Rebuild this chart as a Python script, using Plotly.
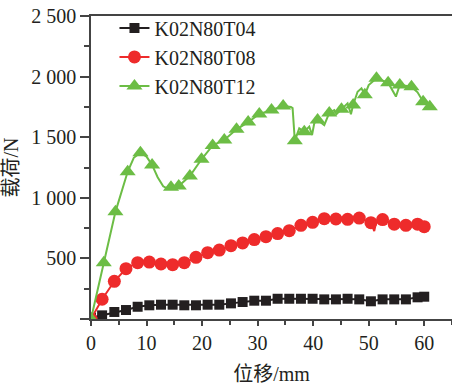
import plotly.graph_objects as go

# ---- data ----
disp_T04 = [0, 2.0, 4.2, 6.3, 8.4, 10.5, 12.6, 14.7, 16.8, 18.9, 21.0, 23.1, 25.2, 27.3, 29.4,
            31.5, 33.6, 35.7, 37.8, 39.9, 42.0, 44.1, 46.2, 48.3, 50.4, 52.5, 54.6, 56.7, 58.8, 60.0]
load_T04 = [10, 30, 58, 74, 101, 113, 118, 118, 113, 113, 118, 118, 129, 140, 151,
            151, 167, 167, 167, 167, 162, 162, 167, 162, 146, 162, 162, 162, 179, 184]

disp_T08 = disp_T04
load_T08 = [0, 163, 311, 415, 465, 470, 454, 448, 465, 509, 547, 569, 605, 628, 655,
            679, 705, 729, 773, 798, 828, 825, 822, 833, 795, 820, 782, 773, 782, 762]
# extra (unmarked) recorded points of T08 curve
disp_T08_extra = [51.0, 51.3]
load_T08_extra = [725, 790]

disp_T12 = [0, 2.3, 4.4, 6.6, 8.9, 11.0, 14.4, 15.8, 17.8, 19.9, 21.9, 24.0, 26.2, 28.3, 30.3,
            32.5, 34.6, 36.7, 38.4, 40.8, 42.9, 45.1, 47.2, 49.3, 51.4, 53.5, 55.6, 57.7, 59.8, 61.0]
load_T12 = [0, 464, 884, 1215, 1372, 1271, 1087, 1097, 1180, 1318, 1432, 1477, 1565, 1625, 1691,
            1724, 1757, 1471, 1545, 1642, 1700, 1730, 1766, 1850, 1986, 1950, 1931, 1917, 1793, 1752]
disp_T12_extra = [7.7, 10.0, 12.0, 13.0, 13.8, 36.0, 36.3, 37.5, 39.3, 39.8, 40.2, 42.0,
                  43.8, 44.2, 46.2, 46.8, 48.0, 48.7, 50.0, 54.9, 58.8]
load_T12_extra = [1330, 1340, 1170, 1095, 1075, 1750, 1740, 1573, 1587, 1518, 1615, 1600,
                  1724, 1690, 1780, 1690, 1875, 1903, 1930, 1835, 1870]

names = ["K02N80T04", "K02N80T08", "K02N80T12"]
y_ticks = [0, 500, 1000, 1500, 2000, 2500]
y_ticktext = ["", "500", "1 000", "1 500", "2 000", "2 500"]
x_ticks = [0, 10, 20, 30, 40, 50, 60]


def merged(x, y, xe, ye):
    pts = sorted(list(zip(x, y)) + list(zip(xe, ye)))
    return [p[0] for p in pts], [p[1] for p in pts]


series = [
    (names[0], disp_T04, load_T04, [], [], "#231f20", "square", 10),
    (names[1], disp_T08, load_T08, disp_T08_extra, load_T08_extra, "#ee2b2b", "circle", 13),
    (names[2], disp_T12, load_T12, disp_T12_extra, load_T12_extra, "#6cbd45", "triangle-up", 14),
]

fig = go.Figure()
for name, x, y, xe, ye, col, sym, sz in series:
    lx, ly = merged(x, y, xe, ye)
    fig.add_trace(go.Scatter(x=lx, y=ly, mode="lines", line=dict(color=col, width=2),
                             showlegend=False, legendgroup=name, hoverinfo="skip"))
    fig.add_trace(go.Scatter(x=x, y=y, mode="markers", showlegend=False, legendgroup=name,
                             marker=dict(symbol=sym, size=sz, color=col, line=dict(width=0))))
    fig.add_trace(go.Scatter(x=[None], y=[None], mode="lines+markers", name=name, legendgroup=name,
                             line=dict(color=col, width=2),
                             marker=dict(symbol=sym, size=sz, color=col, line=dict(width=0))))

axis_col = "#444444"
font_family = "Liberation Serif, Times New Roman, Noto Sans CJK SC, serif"

fig.update_layout(
    width=452, height=388,
    margin=dict(l=91, r=0, t=16, b=69),
    paper_bgcolor="white", plot_bgcolor="white",
    font=dict(family=font_family, size=20, color="#231f20"),
    showlegend=True,
    legend=dict(x=0.065, y=1.025, xanchor="left", yanchor="top", bgcolor="rgba(0,0,0,0)",
                font=dict(family=font_family, size=20, color="#231f20"),
                tracegroupgap=0, itemwidth=30),
    xaxis=dict(range=[0, 65], tickmode="array", tickvals=x_ticks, ticks="outside", ticklen=5,
               tickwidth=1.5, tickcolor=axis_col, showline=True, linecolor=axis_col, linewidth=1.5,
               mirror=True, showgrid=False, zeroline=False,
               minor=dict(tickmode="linear", tick0=5, dtick=10, ticks="outside", ticklen=4,
                          tickwidth=1.5, tickcolor=axis_col),
               title=dict(text="位移/mm", standoff=14, font=dict(family=font_family, size=20))),
    yaxis=dict(range=[0, 2500], tickmode="array", tickvals=y_ticks, ticktext=y_ticktext,
               ticks="outside", ticklen=9, tickwidth=1.5, tickcolor=axis_col,
               showline=True, linecolor=axis_col, linewidth=1.5, mirror=False,
               showgrid=False, zeroline=False,
               minor=dict(tickmode="linear", tick0=250, dtick=500, ticks="outside", ticklen=5,
                          tickwidth=1.5, tickcolor=axis_col),
               title=dict(text="载荷/N", standoff=8, font=dict(family=font_family, size=20))),
)

fig.write_html("out.html")
